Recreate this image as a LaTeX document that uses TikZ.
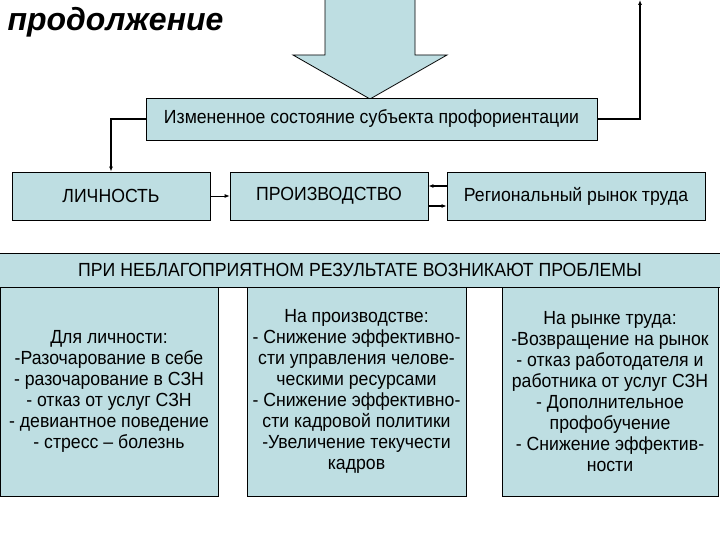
\documentclass[tikz,border=0pt]{standalone}
\usepackage{fontspec}
\setmainfont{Liberation Sans}
\newfontfamily\narrowf[FakeStretch=0.93]{Liberation Sans}
\usetikzlibrary{arrows.meta}
\definecolor{boxc}{RGB}{190,222,226}
\begin{document}
\begin{tikzpicture}[x=1pt,y=-1pt,
  bx/.style={draw=black,fill=boxc,line width=0.8pt,inner sep=0pt,align=center,font=\narrowf\fontsize{19}{21}\selectfont},
  con/.style={line width=1.4pt,-{Latex[length=5pt,width=4pt]}}]
\useasboundingbox (0,0) rectangle (720,540);
\fill[white] (0,0) rectangle (720,540);
\node[anchor=west,font=\bfseries\itshape\fontsize{32}{34}\selectfont] (title) at (4,22) {продолжение};
% big arrow
\draw[fill=boxc,line width=0.8pt] (325,-1) -- (415,-1) -- (415,55) -- (447,55) -- (370,99) -- (293,55) -- (325,55) -- cycle;
\node[bx,minimum width=451,minimum height=42] (state) at (371.5,119) {Измененное состояние субъекта профориентации};
\node[bx,minimum width=198,minimum height=48] (lich) at (111,196) {ЛИЧНОСТЬ};
\node[bx,minimum width=198,minimum height=48] (proiz) at (329,196) {ПРОИЗВОДСТВО};
\node[bx,minimum width=258,minimum height=48] (rynok) at (576,196) {Региональный рынок труда};
\coordinate (topR) at (640,0);
\draw[con] (state.west) -| (lich.north);
\draw[con] (state.east) -| (topR);
\draw[line width=0.8pt,-{Latex[length=5pt,width=4pt]}] (lich.east) -- (proiz.west);
\draw[con] ([yshift=10]rynok.west) -- ([yshift=10]proiz.east);
\draw[con] ([yshift=-10]proiz.east) -- ([yshift=-10]rynok.west);
\node[bx,minimum width=722,minimum height=34] (banner) at (360,270) {ПРИ НЕБЛАГОПРИЯТНОМ РЕЗУЛЬТАТЕ ВОЗНИКАЮТ ПРОБЛЕМЫ};
\node[bx,minimum width=218,minimum height=209] (b1) at (109,391.5) {Для личности:\\-Разочарование в себе\\- разочарование в СЗН\\- отказ от услуг СЗН\\- девиантное поведение\\- стресс – болезнь};
\node[bx,minimum width=219,minimum height=209] (b2) at (356.5,391.5) {На производстве:\\- Снижение эффективно-\\сти управления челове-\\ческими ресурсами\\- Снижение эффективно-\\сти кадровой политики\\-Увеличение текучести\\кадров};
\node[bx,minimum width=216,minimum height=209] (b3) at (610,391.5) {На рынке труда:\\-Возвращение на рынок\\- отказ работодателя и\\работника от услуг СЗН\\- Дополнительное\\профобучение\\- Снижение эффектив-\\ности};
\end{tikzpicture}
\end{document}
